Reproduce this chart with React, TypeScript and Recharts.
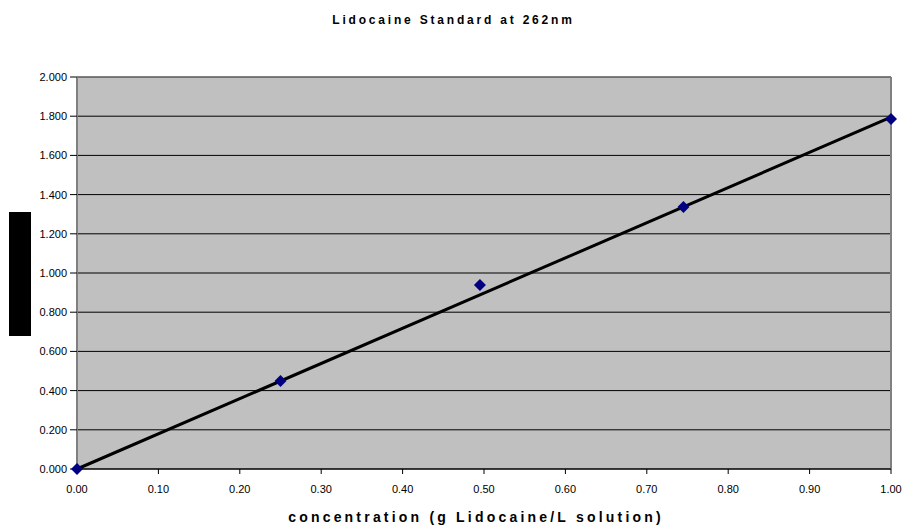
import React from "react";
import {
  ComposedChart,
  Scatter,
  Line,
  XAxis,
  YAxis,
  CartesianGrid,
  ReferenceLine,
  Label,
} from "recharts";

const concentrations = [0.0, 0.25, 0.495, 0.745, 1.0];
const absorbances = [0.0, 0.449, 0.939, 1.337, 1.786];
const trendX = [0, 1];
const trendY = [0, 1.795];
const xTicks = [0, 0.1, 0.2, 0.3, 0.4, 0.5, 0.6, 0.7, 0.8, 0.9, 1.0];
const yTicks = [0, 0.2, 0.4, 0.6, 0.8, 1.0, 1.2, 1.4, 1.6, 1.8, 2.0];
const titleText = "Lidocaine Standard at 262nm";
const xLabelText = "concentration (g Lidocaine/L solution)";

const points = concentrations.map((x, i) => ({ x, y: absorbances[i] }));
const trend = trendX.map((x, i) => ({ x, y: trendY[i] }));

const FONT = "'Liberation Sans', Arial, sans-serif";

const Diamond = (props: any) => {
  const { cx, cy } = props;
  if (cx == null || cy == null) return null;
  const r = 6;
  return (
    <path
      d={`M${cx},${cy - r}L${cx + r},${cy}L${cx},${cy + r}L${cx - r},${cy}Z`}
      fill="#000080"
      stroke="none"
    />
  );
};

const YLabelBox = (props: any) => {
  const vb = props.viewBox || {};
  const cy = vb.y + vb.height / 2;
  return <rect x={vb.x + 9} y={cy - 61} width={22} height={124} fill="#000" />;
};

const XLabelText = (props: any) => {
  const vb = props.viewBox || {};
  const cx = vb.x + vb.width / 2 - 8;
  return (
    <text
      x={cx}
      y={vb.y + 53}
      textAnchor="middle"
      fontFamily={FONT}
      fontWeight="bold"
      fontSize={14}
      letterSpacing={3.2}
      fill="#000"
    >
      {xLabelText}
    </text>
  );
};

export default function App() {
  return (
    <div
      style={{
        position: "absolute",
        left: 0,
        top: 0,
        width: 905,
        height: 527,
        background: "#fff",
      }}
    >
      <div
        style={{
          position: "absolute",
          left: 0,
          top: 13,
          width: 905,
          textAlign: "center",
          fontFamily: FONT,
          fontWeight: "bold",
          fontSize: 12,
          letterSpacing: 2.8,
          paddingLeft: 2,
          boxSizing: "border-box",
          color: "#000",
          lineHeight: "14px",
        }}
      >
        {titleText}
      </div>
      <ComposedChart
        width={905}
        height={527}
        margin={{ top: 77, right: 14, bottom: 0, left: 0 }}
      >
        <CartesianGrid
          vertical={false}
          horizontal={true}
          stroke="#000"
          fill="#C0C0C0"
          fillOpacity={1}
        />
        <XAxis
          dataKey="x"
          type="number"
          domain={[0, 1]}
          ticks={xTicks}
          interval={0}
          tickFormatter={(v: number) => v.toFixed(2)}
          tick={{ fontFamily: FONT, fontSize: 11, fill: "#000" }}
          axisLine={{ stroke: "#000", strokeWidth: 1 }}
          tickLine={{ stroke: "#000" }}
          tickSize={5}
          tickMargin={11}
          height={58}
        >
          <Label content={<XLabelText />} />
        </XAxis>
        <YAxis
          dataKey="y"
          type="number"
          domain={[0, 2]}
          ticks={yTicks}
          interval={0}
          tickFormatter={(v: number) => v.toFixed(3)}
          tick={{ fontFamily: FONT, fontSize: 11, fill: "#000" }}
          axisLine={{ stroke: "#808080", strokeWidth: 2 }}
          tickLine={{ stroke: "#000" }}
          tickSize={7}
          tickMargin={3}
          width={77}
        >
          <Label content={<YLabelBox />} />
        </YAxis>
        <ReferenceLine y={2} stroke="#808080" strokeWidth={1} />
        <ReferenceLine x={1} stroke="#808080" strokeWidth={2} />
        <Scatter
          data={points}
          dataKey="y"
          shape={<Diamond />}
          isAnimationActive={false}
        />
        <Line
          data={trend}
          dataKey="y"
          type="linear"
          stroke="#000"
          strokeWidth={3}
          dot={false}
          activeDot={false}
          isAnimationActive={false}
          legendType="none"
        />
      </ComposedChart>
    </div>
  );
}
